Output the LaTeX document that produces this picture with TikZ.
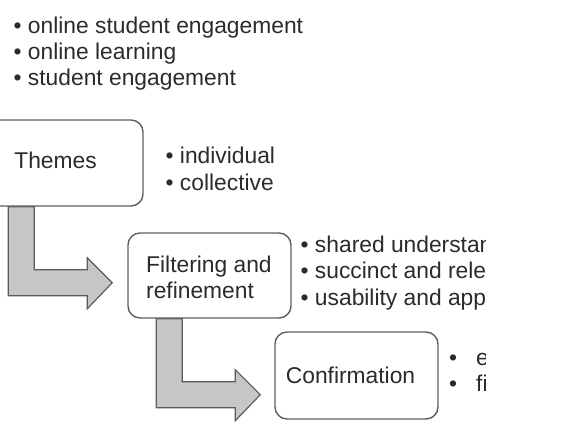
\documentclass[tikz,border=0pt]{standalone}
\usepackage{fontspec}
\setmainfont{Liberation Sans}
\usetikzlibrary{calc,backgrounds}
\definecolor{txt}{HTML}{2B2B2B}
\definecolor{boxline}{HTML}{5F5F5F}
\definecolor{arrowfill}{HTML}{C6C6C6}
\definecolor{arrowline}{HTML}{5C5C5C}
\begin{document}
\begin{tikzpicture}[x=1pt,y=-1pt,
  every node/.style={font=\fontsize{22.8}{26}\selectfont, text=txt},
  stagebox/.style={draw=boxline, line width=1.4pt, rounded corners=12pt,
    fill=white, inner sep=0pt},
  boxtext/.style={anchor=base, inner sep=0pt},
  item/.style={anchor=base west, inner sep=0pt},
  blockarrow/.style={fill=arrowfill, draw=arrowline, line width=1.2pt,
    line join=miter},
  elbowarrow/.pic={
    \draw[blockarrow] (0,0) -- (0,89) -- (79,89) -- (79,102) -- (104,76)
      -- (79,51) -- (79,63) -- (26,63) -- (26,0) -- cycle;
  }]

\useasboundingbox (0,0) rectangle (568,447);
\clip (0,0) rectangle (485,447);

% keyword list
\node[item] (k1) at (13.5,33) {• online student engagement};
\node[item] (k2) at (13.5,59) {• online learning};
\node[item] (k3) at (13.5,85) {• student engagement};

% stage boxes
\node[stagebox, minimum width=175pt, minimum height=86pt] (themes) at (55.5,163) {};
\node[stagebox, minimum width=163pt, minimum height=85pt] (filter) at (209.5,275.5) {};
\node[stagebox, minimum width=163pt, minimum height=87pt] (confirm) at (356.5,375.5) {};

\node[boxtext] (themesT) at (55.5,168) {Themes};
\node[item] (filterT1) at (146,272) {Filtering and};
\node[item] (filterT2) at (146,298) {refinement};
\node[boxtext] (confirmT) at (350.5,383) {Confirmation};

% stage notes
\node[item] (t1) at (165.5,163) {• individual};
\node[item] (t2) at (165.5,190) {• collective};

\node[item] (f1) at (300.5,252) {• shared understan};
\node[item] (f2) at (300.5,278) {• succinct and rele};
\node[item] (f3) at (300.5,305) {• usability and app};

\node[item] (c1b) at (449,365) {•};
\node[item] (c1) at (476,365) {e};
\node[item] (c2b) at (449,391) {•};
\node[item] (c2) at (476,391) {fi};

% elbow arrows between stages
\begin{scope}[on background layer]
  \pic at ($(themes.south west)+(41,0)$) {elbowarrow};
  \pic at ($(filter.south west)+(29,0)$) {elbowarrow};
\end{scope}
\end{tikzpicture}
\end{document}
